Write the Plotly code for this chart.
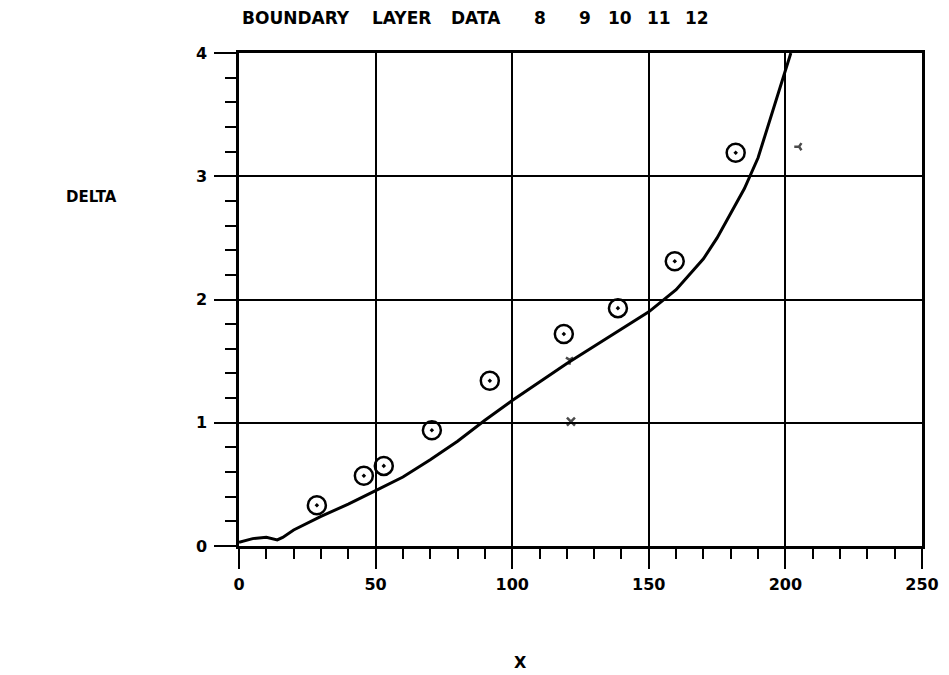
import plotly.graph_objects as go

# Measured boundary layer thickness (circles)
x_data = [28.5, 45.7, 53.0, 70.6, 91.8, 118.9, 138.7, 159.5, 181.8]
delta_data = [0.33, 0.57, 0.65, 0.94, 1.34, 1.72, 1.93, 2.31, 3.19]

# Small auxiliary symbols
x_small = [121.5, 121.0, 205.0]
delta_small = [1.01, 1.51, 3.24]

# Computed curve
x_curve = [0, 5, 10, 14, 16, 20, 30, 40, 50, 60, 70, 80, 90, 100, 110, 120,
           130, 140, 150, 160, 170, 175, 180, 185, 190, 195, 200, 202]
delta_curve = [0.03, 0.06, 0.07, 0.05, 0.07, 0.13, 0.24, 0.34, 0.45, 0.56, 0.70,
               0.85, 1.02, 1.18, 1.33, 1.48, 1.62, 1.76, 1.90, 2.08, 2.33, 2.50,
               2.70, 2.90, 3.15, 3.50, 3.85, 4.00]

x_ticks = [0, 50, 100, 150, 200, 250]
y_ticks = [0, 1, 2, 3, 4]

title_words = ["BOUNDARY", "LAYER", "DATA", "8", "9", "10", "11", "12"]

FONT = "DejaVu Sans"

# plot area in page pixels (reference)
PX0, PX1, PY0, PY1 = 239, 922, 53, 546
OFF = 8  # body margin of the html page


def px_to_paper(px, py):
    return (px - PX0) / (PX1 - PX0), (PY1 - py) / (PY1 - PY0)


fig = go.Figure()
fig.add_trace(go.Scatter(x=x_curve, y=delta_curve, mode="lines",
                         line=dict(color="black", width=3), showlegend=False))
fig.add_trace(go.Scatter(x=x_data, y=delta_data, mode="markers",
                         marker=dict(symbol="circle-open-dot", size=18, color="black",
                                     line=dict(width=2.5, color="black")),
                         showlegend=False))
fig.add_trace(go.Scatter(x=x_small, y=delta_small, mode="markers",
                         marker=dict(symbol=["x-thin", "y-down", "y-left"], size=[8, 6, 6],
                                     color="black", line=dict(width=2.5, color="black")),
                         showlegend=False))

annotations = []
word_centers = [296, 401, 476, 540, 585, 620, 659, 697]
for w, cx in zip(title_words, word_centers):
    ax, ay = px_to_paper(cx, 18)
    annotations.append(dict(text="<b>%s</b>" % w, x=ax, y=ay, xref="paper", yref="paper",
                            xanchor="center", yanchor="middle", showarrow=False,
                            font=dict(family=FONT, size=17, color="black")))
ax, ay = px_to_paper(91, 197)
annotations.append(dict(text="<b>DELTA</b>", x=ax, y=ay, xref="paper", yref="paper",
                        xanchor="center", yanchor="middle", showarrow=False,
                        font=dict(family=FONT, size=15, color="black")))
ax, ay = px_to_paper(520, 662)
annotations.append(dict(text="<b>X</b>", x=ax, y=ay, xref="paper", yref="paper",
                        xanchor="center", yanchor="middle", showarrow=False,
                        font=dict(family=FONT, size=16, color="black")))

fig.update_layout(
    width=949, height=675,
    margin=dict(l=PX0 - OFF, r=949 - PX1 + OFF, t=PY0 - OFF, b=675 - PY1 + OFF),
    paper_bgcolor="white", plot_bgcolor="white",
    font=dict(family=FONT, color="black", size=15),
    annotations=annotations,
)

fig.update_xaxes(range=[0, 250], tickvals=x_ticks, ticktext=[str(v) for v in x_ticks],
                 showline=True, linecolor="black", linewidth=2.5, mirror=True,
                 showgrid=True, gridcolor="black", gridwidth=2, zeroline=False,
                 ticks="outside", ticklen=20, tickwidth=2, tickcolor="black",
                 ticklabelstandoff=2,
                 tickfont=dict(family=FONT, size=16, color="black", weight="bold"),
                 minor=dict(tickvals=[v for v in range(10, 250, 10) if v % 50],
                            ticks="outside", ticklen=10, tickwidth=2, tickcolor="black",
                            showgrid=False))
fig.update_yaxes(range=[0, 4], tickvals=y_ticks, ticktext=[str(v) for v in y_ticks],
                 showline=True, linecolor="black", linewidth=2.5, mirror=True,
                 showgrid=True, gridcolor="black", gridwidth=2, zeroline=False,
                 ticks="outside", ticklen=22, tickwidth=2, tickcolor="black",
                 ticklabelstandoff=4,
                 tickfont=dict(family=FONT, size=16, color="black", weight="bold"),
                 minor=dict(tickvals=[round(i * 0.2, 1) for i in range(1, 20) if i % 5],
                            ticks="outside", ticklen=11, tickwidth=2, tickcolor="black",
                            showgrid=False))

fig.write_html("out.html")
